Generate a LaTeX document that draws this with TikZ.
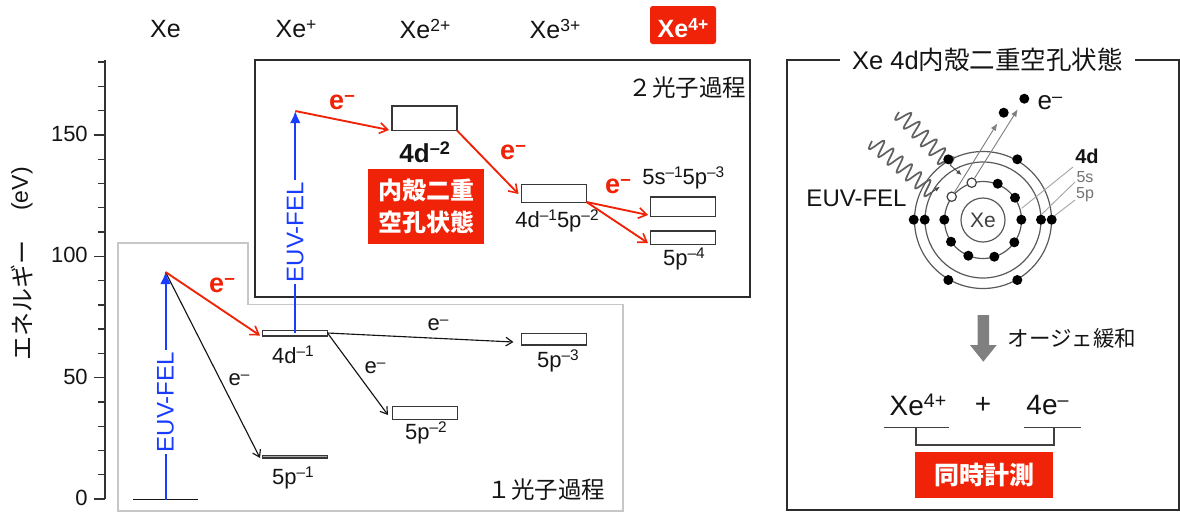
\documentclass[tikz,border=0pt]{standalone}
\usepackage{fontspec}
\usepackage{graphicx}
\setmainfont{Liberation Sans}
\newfontfamily\jp{Noto Sans CJK JP}
\usetikzlibrary{arrows.meta}
\definecolor{fired}{HTML}{F02207}
\definecolor{laser}{HTML}{1A3CFF}
\definecolor{ink}{HTML}{141414}
% font sizes are given in drawing pixels (1 px = 0.75 pt)
\newcommand{\pxfont}[1]{\fontsize{\fpeval{#1*0.75}}{\fpeval{#1*0.9}}\selectfont}
\newcommand{\ups}[1]{\raisebox{.3em}{\scalebox{.7}{#1}}}
% sine wave between two points: x0,y0,x1,y1,amplitude,periods
\newcommand{\photon}[6]{%
  \pgfmathsetmacro{\wl}{veclen(#3-#1,#4-#2)}%
  \draw[wave] plot[domain=0:1,samples=120,smooth] ({#1+\x*(#3-#1)-#5*sin(360*#6*\x)*(#4-#2)/\wl},{#2+\x*(#4-#2)+#5*sin(360*#6*\x)*(#3-#1)/\wl});}
\tikzset{
  lvl/.style={draw=ink!85,fill=white,line width=.85pt,inner sep=0pt,outer sep=0pt,minimum width=48.8pt},
  lab/.style={text=ink,inner sep=0pt},
  lvltext/.style={lab,font=\pxfont{22}},
  toptext/.style={lab,font=\pxfont{25}},
  tick/.style={lab,font=\pxfont{22},anchor=east},
  elec/.style={lab,font=\pxfont{22}},
  redelec/.style={inner sep=0pt,text=fired,font=\pxfont{27}\bfseries},
  fel/.style={inner sep=1.5pt,fill=white,text=laser,font=\pxfont{24},rotate=90},
  redtag/.style={fill=fired,text=white,inner sep=0pt,outer sep=0pt,font=\jp\bfseries\pxfont{24},align=center},
  redarrow/.style={draw=fired,line width=1.4pt,-{Straight Barb[length=6pt,width=8pt,line width=1.2pt]}},
  blkarrow/.style={draw=ink,line width=.85pt,-{Straight Barb[length=5pt,width=6.5pt,line width=.85pt]}},
  bluearrow/.style={draw=laser,line width=1.5pt,-{Latex[length=9pt,width=8pt]}},
  dotb/.style={circle,fill=black,inner sep=0pt,minimum size=7.5pt},
  dotw/.style={circle,draw=ink!80,fill=white,line width=.9pt,inner sep=0pt,minimum size=7pt},
  ring/.style={draw=black!65,line width=.9pt},
  leader/.style={draw=black!35,line width=.7pt},
  wave/.style={draw=black!62,line width=1.3pt},
  outgo/.style={draw=black!50,line width=.7pt,-{Latex[length=5.5pt,width=4.5pt]}},
  panel/.style={draw=ink!90,line width=1.1pt},
  bracket/.style={draw=black!75,line width=1pt},
}
\begin{document}
\begin{tikzpicture}[x=0.75pt,y=-0.75pt]
\useasboundingbox (0,0) rectangle (1180,512);

% process frames
\draw[draw=black!22,line width=1.1pt] (118,511) -- (118,243) -- (248,243) -- (248,304.5) -- (623,304.5) -- (623,511) -- cycle;
\draw[panel,fill=white] (255,60) rectangle (750,297);
\draw[panel] (787,60) rectangle (1179,510);

% energy axis
\draw[draw=black!80,line width=1pt] (105,60) -- (105,499);
\foreach \v in {0,...,18}{
  \draw[draw=black!80,line width=1pt] (98,{499-\v*24.27}) -- (105,{499-\v*24.27});
}
\foreach \v/\t in {0/0,5/50,10/100,15/150}{
  \draw[draw=black!80,line width=1pt] (94,{499-\v*24.27}) -- (105,{499-\v*24.27});
  \node[tick] (tick\t) at (88,{498-\v*24.27}) {\t};
}
\node[lab,rotate=90,font=\jp\pxfont{24}] (ylab) at (22,300) {エネルギー};
\node[lab,rotate=90,font=\pxfont{23}] (yunit) at (22,189) {(eV)};

% charge states
\node[toptext] (q0) at (165.5,29) {Xe};
\node[toptext] (q1) at (296,29) {Xe\ups{+}};
\node[toptext] (q2) at (425,29) {Xe\ups{2+}};
\node[toptext] (q3) at (555,29) {Xe\ups{3+}};
\node[fill=fired,rounded corners=2pt,minimum width=49.5pt,minimum height=28.5pt,inner sep=0pt] (q4box) at (683,25) {};
\node[text=white,inner sep=0pt,font=\pxfont{25}\bfseries] (q4) at (683,28) {Xe\ups{4+}};

% energy levels
\coordinate (g0) at (133,499.5);
\coordinate (g1) at (198,499.5);
\coordinate (gm) at (165.5,499.5);
\node[lvl,minimum height=4pt] (d1) at (295.3,333.3) {};
\node[lvl,minimum height=2pt,fill=black!35] (p1) at (295.3,456.7) {};
\node[lvl,minimum height=9.5pt] (p2) at (424.7,413) {};
\node[lvl,minimum height=8.5pt] (p3) at (554,339.3) {};
\node[lvl,minimum height=18.5pt] (d2) at (424.5,118.3) {};
\node[lvl,minimum height=13.7pt] (dp) at (554,193.2) {};
\node[lvl,minimum height=14.8pt] (sp) at (683,206.8) {};
\node[lvl,minimum height=10pt] (p4) at (683,237.6) {};
\draw[draw=ink,line width=.75pt] (g0) -- (g1);

% level names
\node[lvltext] (td1) at (293,355) {4d\ups{–1}};
\node[lvltext] (tp1) at (293,478) {5p\ups{–1}};
\node[lvltext] (tp2) at (426,433) {5p\ups{–2}};
\node[lvltext] (tp3) at (558,361) {5p\ups{–3}};
\node[lab,font=\pxfont{26}\bfseries] (td2) at (424.7,152) {4d\ups{–2}};
\node[lvltext] (tdp) at (557,221) {4d\ups{–1}5p\ups{–2}};
\node[lvltext] (tsp) at (683.3,178) {5s\ups{–1}5p\ups{–3}};
\node[lvltext] (tp4) at (684,259) {5p\ups{–4}};

% excited virtual states and arrow ends
\coordinate (v1) at (165.5,272);
\coordinate (v2) at (295.3,111);
\coordinate (e1) at (260,335.5);
\coordinate (e2) at (260,458);
\coordinate (e3) at (513.5,342);
\coordinate (e4) at (388,415);
\coordinate (e5) at (389,130);
\coordinate (e6) at (518.5,194);
\coordinate (e7) at (648,215);
\coordinate (e8) at (648,243);
\coordinate (d1r) at (327.5,333);
\coordinate (d2r) at (457,130.5);
\coordinate (dpr) at (586.5,202);

% photoabsorption
\draw[bluearrow] (gm) -- (v1);
\draw[bluearrow] (d1.center) -- (v2);
\node[fel] (fel1) at (165.5,402) {EUV-FEL};
\node[fel] (fel2) at (295.3,232) {EUV-FEL};

% electron emission, one-photon branch
\draw[blkarrow] (v1) -- (e2);
\draw[redarrow] (v1) -- (e1);
\draw[blkarrow] (d1r) -- (e3);
\draw[blkarrow] (d1r) -- (e4);
\node[elec] (ea) at (239,380) {e\ups{–}};
\node[elec] (eb) at (375,368) {e\ups{–}};
\node[elec] (ec) at (438,325) {e\ups{–}};
\node[redelec] (ra) at (222,285) {e\ups{–}};

% electron emission, two-photon branch
\draw[redarrow] (v2) -- (e5);
\draw[redarrow] (d2r) -- (e6);
\draw[redarrow] (dpr) -- (e7);
\draw[redarrow] (dpr) -- (e8);
\node[redelec] (rb) at (342,102) {e\ups{–}};
\node[redelec] (rc) at (513,152) {e\ups{–}};
\node[redelec] (rd) at (618,186) {e\ups{–}};

% process names and state tag
\node[lab,font=\jp\pxfont{23.5}] (two) at (687.5,88) {２光子過程};
\node[lab,font=\jp\pxfont{23.5}] (one) at (546.5,490) {１光子過程};
\node[redtag,minimum width=87pt,minimum height=56.5pt] (tag) at (426.3,206.3) {内殻二重\\[2pt]空孔状態};

% hollow-atom panel
\node[fill=white,inner ysep=3pt,inner xsep=9pt,text=ink,font=\pxfont{25.5}] (title) at (987.5,60) {Xe 4d{\jp 内殻二重空孔状態}};
\coordinate (c) at (983,220);
\draw[ring] (c) circle[radius=22];
\draw[ring] (c) circle[radius=38.5];
\draw[ring] (c) circle[radius=58];
\draw[ring] (c) circle[radius=68.5];
\node[lab,text=black!75,font=\pxfont{21}] (xe) at (983,220) {Xe};

% shell leaders
\coordinate (l4a) at (1021.7,208.3);
\coordinate (l5a) at (1041,215);
\coordinate (l6a) at (1051.7,218);
\node[lab,font=\pxfont{20}\bfseries] (t4d) at (1087,156.5) {4d};
\node[lab,text=black!55,font=\pxfont{16}] (t5s) at (1085,177) {5s};
\node[lab,text=black!55,font=\pxfont{16}] (t5p) at (1085,195) {5p};
\coordinate (l4b) at (1073,167);
\coordinate (l5b) at (1075,182);
\coordinate (l6b) at (1075,200);
\draw[leader] (l4a) -- (l4b);
\draw[leader] (l5a) -- (l5b);
\draw[leader] (l6a) -- (l6b);

% incoming photons
\coordinate (w1b) at (950,165);
\coordinate (w2b) at (932,192);
\coordinate (w1c) at (961.7,175);
\coordinate (w2c) at (940,186.7);
\photon{899}{112}{950}{165}{8}{6}
\photon{872}{141}{932}{192}{8}{6.5}
\draw[draw=black!70,line width=.7pt,-{Latex[length=4pt,width=3.5pt]}] (w1b) -- (w1c);
\draw[draw=black!70,line width=.7pt,-{Latex[length=4pt,width=3.5pt]}] (w2b) -- (w2c);

% electrons
\foreach \n/\x/\y in {a/913.7/219.7,b/924.7/219.7,c/944.3/219.7,d/1021.3/219.7,e/1041/219.7,f/1051.7/219.7,
  g/948.3/159.3,h/1017.3/159.3,i/948.3/280,j/1017.3/280,
  k/997.7/183.7,l/1015/197.7,m/1014.3/242.3,n/951/241.7,o/968.3/255.7,p/994.3/256.7}{
  \node[dotb] (el\n) at (\x,\y) {};
}
\node[dotw] (h1) at (951.7,196.7) {};
\node[dotw] (h2) at (971.7,182.7) {};
\node[dotb] (out1) at (1003.7,112.7) {};
\node[dotb] (out2) at (1024.3,98.7) {};
\coordinate (o1) at (997.3,123.3);
\coordinate (o2) at (1017.7,109.3);
\draw[outgo] (h1) -- (o1);
\draw[outgo] (h2) -- (o2);
\node[lab,font=\pxfont{26}] (eout) at (1050,103) {e\ups{–}};
\node[lab,font=\pxfont{24}] (felr) at (856.5,198) {EUV-FEL};

% Auger relaxation
\fill[black!50] (977.7,315) -- (989,315) -- (989,345) -- (996.7,345) -- (983.3,361.7) -- (970,345) -- (977.7,345) -- cycle;
\node[lab,font=\jp\pxfont{21.5}] (auger) at (1072,338) {オージェ緩和};

% coincidence products
\node[lab,font=\pxfont{28}] (pxe) at (918,405) {Xe\ups{4+}};
\node[lab,font=\pxfont{28}] (plus) at (983,405) {+};
\node[lab,font=\pxfont{28}] (pe) at (1047.5,405) {4e\ups{–}};
\coordinate (u1a) at (883.5,427.5);
\coordinate (u1b) at (949,427.5);
\coordinate (u2a) at (1023.5,427.5);
\coordinate (u2b) at (1080.5,427.5);
\coordinate (b1) at (916,427.5);
\coordinate (b2) at (1054,427.5);
\draw[bracket] (u1a) -- (u1b);
\draw[bracket] (u2a) -- (u2b);
\draw[bracket] (b1) -- (916,445) -- (1054,445) -- (b2);
\node[redtag,minimum width=103.7pt,minimum height=35pt,font=\jp\bfseries\pxfont{25}] (coin) at (984.2,475) {同時計測};
\end{tikzpicture}
\end{document}
